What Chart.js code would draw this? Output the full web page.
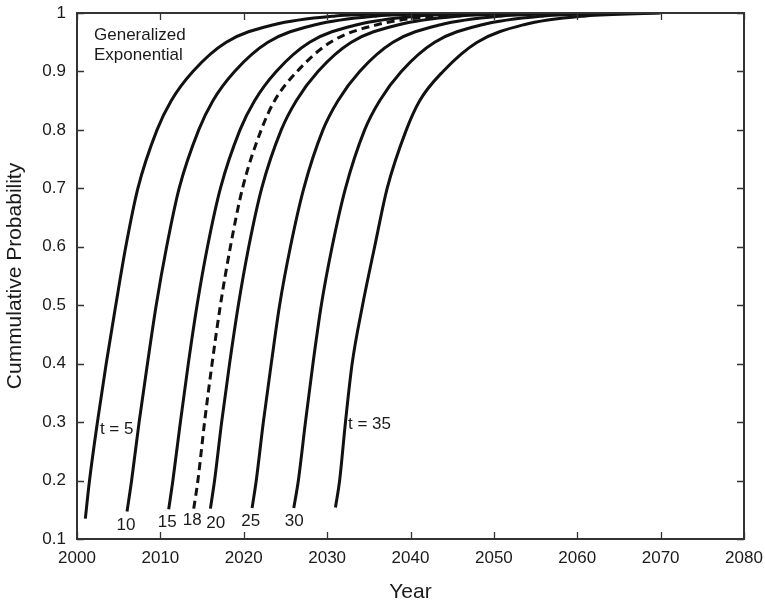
<!DOCTYPE html>
<html>
<head>
<meta charset="utf-8">
<script src="https://cdn.jsdelivr.net/npm/chart.js@4.4.1/dist/chart.umd.min.js"></script>
<style>
  html, body { margin: 0; padding: 0; background: #fff; }
  canvas { display: block; }
</style>
</head>
<body>
<canvas id="cdf" width="765" height="605"></canvas>
<script>
// years at which each curve starts, and the probability it starts at
const startYears = [2001, 2006, 2011, 2014, 2016, 2021, 2026, 2031];
const startProbs = [0.135, 0.147, 0.151, 0.152, 0.152, 0.153, 0.153, 0.154];

// probability levels, and the year each curve crosses them
const probLevels = [0.2, 0.3, 0.4, 0.5, 0.6, 0.7, 0.8, 0.85, 0.9, 0.95, 0.98, 0.995, 1];
const yearsT5 = [2001.5, 2002.45, 2003.5, 2004.65, 2005.85, 2007.3, 2009.6, 2011.3, 2013.9, 2017.9, 2023.6, 2031.0, 2040];
const yearsT10 = [2006.55, 2007.45, 2008.45, 2009.5, 2010.75, 2012.25, 2014.6, 2016.3, 2018.9, 2022.9, 2028.6, 2036.0, 2045];
const yearsT15 = [2011.5, 2012.4, 2013.35, 2014.4, 2015.65, 2017.2, 2019.55, 2021.3, 2023.9, 2027.9, 2033.6, 2041.0, 2050];
const yearsT18 = [2014.5, 2015.3, 2016.2, 2017.2, 2018.4, 2019.85, 2022.1, 2023.7, 2026.4, 2030.4, 2036.0, 2043.5, 2052];
const yearsT20 = [2016.5, 2017.35, 2018.3, 2019.35, 2020.6, 2022.15, 2024.5, 2026.3, 2028.9, 2032.9, 2038.6, 2046.0, 2055];
const yearsT25 = [2021.5, 2022.35, 2023.3, 2024.3, 2025.6, 2027.2, 2029.5, 2031.3, 2033.9, 2037.9, 2043.6, 2051.0, 2060];
const yearsT30 = [2026.55, 2027.4, 2028.3, 2029.3, 2030.6, 2032.2, 2034.5, 2036.3, 2038.9, 2042.9, 2048.6, 2056.0, 2065];
const yearsT35 = [2031.5, 2032.2, 2033.0, 2034.25, 2035.7, 2037.2, 2039.5, 2041.1, 2043.9, 2048.0, 2053.6, 2061.0, 2070];
const curveYears = [yearsT5, yearsT10, yearsT15, yearsT18, yearsT20, yearsT25, yearsT30, yearsT35];
const curveNames = ['t = 5', 't = 10', 't = 15', 't = 18', 't = 20', 't = 25', 't = 30', 't = 35'];
const dashedCurve = 3;

// axis ticks
const xTickValues = [2000, 2010, 2020, 2030, 2040, 2050, 2060, 2070, 2080];
const yTickValues = [0.1, 0.2, 0.3, 0.4, 0.5, 0.6, 0.7, 0.8, 0.9, 1];

// curve labels, placed in data units
const labelTexts = ['t = 5', '10', '15', '18', '20', '25', '30', 't = 35'];
const labelYears = [2002.75, 2005.88, 2010.83, 2013.83, 2016.64, 2020.83, 2026.06, 2032.5];
const labelProbs = [0.287, 0.124, 0.128, 0.1325, 0.127, 0.1296, 0.131, 0.297];

const FONT = '"Liberation Sans", Arial, Helvetica, sans-serif';

const datasets = curveYears.map(function (years, i) {
    const pts = [{ x: startYears[i], y: startProbs[i] }];
    years.forEach(function (yr, k) {
        pts.push({ x: yr, y: probLevels[k] });
    });
    return {
        label: curveNames[i],
        data: pts,
        borderColor: '#111',
        borderWidth: 3,
        borderDash: i === dashedCurve ? [8, 5] : [],
        pointRadius: 0,
        cubicInterpolationMode: 'monotone',
        fill: false
    };
});

// frame, inward tick marks and text annotations
const frameAndLabels = {
    id: 'frameAndLabels',
    afterDatasetsDraw(chart) {
        const { ctx, chartArea: a, scales: { x, y } } = chart;
        ctx.save();
        ctx.strokeStyle = '#333';
        ctx.lineWidth = 2;
        ctx.strokeRect(a.left, a.top, a.right - a.left, a.bottom - a.top);

        ctx.lineWidth = 1.3;
        ctx.beginPath();
        x.ticks.forEach(function (t) {
            const px = Math.round(x.getPixelForValue(t.value)) + 0.5;
            ctx.moveTo(px, a.bottom); ctx.lineTo(px, a.bottom - 7);
            ctx.moveTo(px, a.top); ctx.lineTo(px, a.top + 7);
        });
        y.ticks.forEach(function (t) {
            const py = Math.round(y.getPixelForValue(t.value)) + 0.5;
            ctx.moveTo(a.left, py); ctx.lineTo(a.left + 7, py);
            ctx.moveTo(a.right, py); ctx.lineTo(a.right - 7, py);
        });
        ctx.stroke();

        ctx.fillStyle = '#1a1a1a';
        ctx.font = '17px ' + FONT;
        ctx.textBaseline = 'middle';
        labelTexts.forEach(function (txt, i) {
            ctx.textAlign = txt.startsWith('t') ? 'left' : 'center';
            ctx.fillText(txt, x.getPixelForValue(labelYears[i]), y.getPixelForValue(labelProbs[i]));
        });
        ctx.textAlign = 'left';
        ctx.fillText('Generalized', a.left + 17, a.top + 22);
        ctx.fillText('Exponential', a.left + 17, a.top + 42);
        ctx.restore();
    }
};

const config = {
    type: 'line',
    data: { datasets: datasets },
    options: {
        responsive: false,
        animation: false,
        layout: {
            padding: { left: 0, right: 21, top: 13, bottom: 0 }
        },
        plugins: {
            legend: { display: false },
            tooltip: { enabled: false }
        },
        scales: {
            x: {
                type: 'linear',
                min: 2000,
                max: 2080,
                afterBuildTicks: function (scale) {
                    scale.ticks = xTickValues.map(function (v) { return { value: v }; });
                },
                afterFit: function (scale) {
                    scale.height = 66;
                    scale.paddingLeft = 0;
                    scale.paddingRight = 0;
                },
                grid: { display: false, drawTicks: false },
                border: { display: false },
                ticks: {
                    color: '#1a1a1a',
                    font: { family: FONT, size: 17 },
                    padding: 9,
                    maxRotation: 0,
                    callback: function (v) { return String(v); }
                },
                title: {
                    display: true,
                    text: 'Year',
                    color: '#1a1a1a',
                    font: { family: FONT, size: 21 },
                    padding: { top: 0, bottom: 0 }
                }
            },
            y: {
                type: 'linear',
                min: 0.1,
                max: 1,
                afterBuildTicks: function (scale) {
                    scale.ticks = yTickValues.map(function (v) { return { value: v }; });
                },
                afterFit: function (scale) {
                    scale.width = 77;
                    scale.paddingTop = 0;
                    scale.paddingBottom = 0;
                },
                grid: { display: false, drawTicks: false },
                border: { display: false },
                ticks: {
                    color: '#1a1a1a',
                    font: { family: FONT, size: 17 },
                    padding: 11,
                    callback: function (v) { return String(Math.round(v * 10) / 10); }
                },
                title: {
                    display: true,
                    text: 'Cummulative Probability',
                    color: '#1a1a1a',
                    font: { family: FONT, size: 21 },
                    padding: { top: 3, bottom: 0 }
                }
            }
        }
    },
    plugins: [frameAndLabels]
};

const chart = new Chart('cdf', config);
</script>
</body>
</html>
